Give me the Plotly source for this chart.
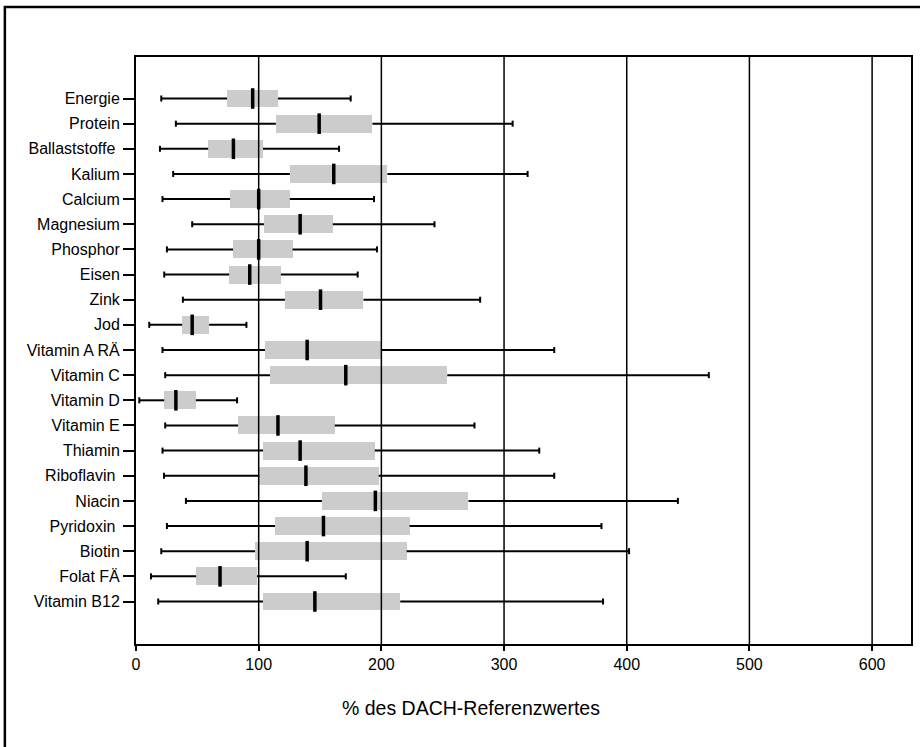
import plotly.graph_objects as go

# Nutrient categories (top to bottom)
nutrients = [
    "Energie", "Protein", "Ballaststoffe\u00a0", "Kalium", "Calcium", "Magnesium",
    "Phosphor", "Eisen", "Zink", "Jod", "Vitamin A RÄ", "Vitamin C", "Vitamin D",
    "Vitamin E", "Thiamin", "Riboflavin\u00a0", "Niacin", "Pyridoxin\u00a0", "Biotin",
    "Folat FÄ", "Vitamin B12",
]

# Distribution of intake in % of the DACH reference value
whisker_low = [20.6, 32.5, 19.5, 30.3, 21.6, 45.8, 25.2, 23.0, 38.2, 10.8, 21.6,
               23.8, 2.7, 23.8, 21.6, 22.8, 40.7, 25.2, 20.6, 12.2, 18.1]
q1 = [74.2, 114.0, 58.8, 125.4, 76.7, 104.3, 79.1, 75.9, 121.4, 37.6, 105.1,
      109.2, 23.0, 83.2, 103.5, 100.5, 151.5, 113.3, 97.0, 49.0, 103.5]
median = [95.1, 149.3, 79.4, 161.2, 100.0, 133.8, 100.0, 92.7, 150.4, 45.8, 139.5,
          171.0, 32.5, 115.7, 133.8, 138.5, 195.1, 152.8, 139.5, 68.5, 145.8]
q3 = [115.7, 192.7, 103.5, 204.9, 125.4, 160.4, 127.6, 118.1, 185.4, 59.6, 199.7,
      253.7, 48.8, 162.0, 194.6, 197.8, 271.0, 223.0, 220.6, 98.6, 215.4]
whisker_high = [175.0, 307.0, 165.5, 319.2, 194.0, 243.3, 196.4, 180.7, 280.5, 90.0, 340.9,
                466.9, 82.4, 275.9, 328.7, 340.9, 441.7, 379.4, 401.9, 171.0, 380.7]

x_ticks = [0, 100, 200, 300, 400, 500, 600]
x_title = "% des DACH-Referenzwertes"

FONT = "Arial, 'Liberation Sans', sans-serif"
idx = list(range(len(nutrients)))

# whisker segments outside the boxes
wx, wy = [], []
for i in idx:
    wx += [whisker_low[i], q1[i], None, q3[i], whisker_high[i], None]
    wy += [i, i, None, i, i, None]

fig = go.Figure()

fig.add_trace(go.Bar(
    y=idx, x=[b - a for a, b in zip(q1, q3)], base=q1, orientation="h",
    width=0.715, marker=dict(color="#cccccc", line=dict(width=0)),
    hoverinfo="skip",
))

fig.add_trace(go.Scatter(
    x=wx, y=wy, mode="lines", line=dict(color="black", width=2),
    hoverinfo="skip",
))

# whisker end caps
fig.add_trace(go.Scatter(
    x=whisker_low + whisker_high, y=idx + idx, mode="markers",
    marker=dict(symbol="line-ns", size=4.3, color="black",
                line=dict(color="black", width=2)),
    hoverinfo="skip",
))

# medians
fig.add_trace(go.Scatter(
    x=median, y=idx, mode="markers",
    marker=dict(symbol="line-ns", size=14.7, color="black",
                line=dict(color="black", width=3.5)),
    hoverinfo="skip",
))

# vertical grid lines drawn over the boxes
shapes = [
    dict(type="line", xref="x", yref="paper", x0=v, x1=v, y0=0, y1=1,
         line=dict(color="black", width=1.5), layer="above")
    for v in x_ticks[1:]
]
# outer frame around the whole chart
shapes.append(dict(type="rect", xref="paper", yref="paper",
                   x0=-0.1692, x1=1.2, y0=-0.4, y1=1.0851,
                   line=dict(color="black", width=2.5), layer="above"))

fig.update_layout(
    width=920, height=747,
    margin=dict(l=136, r=7, t=57, b=103),
    paper_bgcolor="white", plot_bgcolor="white",
    showlegend=False,
    font=dict(family=FONT, color="black", size=16),
    shapes=shapes,
    annotations=[dict(
        text=x_title, xref="paper", yref="paper", x=0.4328, y=-0.1084,
        xanchor="center", yanchor="middle", showarrow=False,
        font=dict(family=FONT, size=19.5, color="black"),
    )],
    bargap=0,
)

fig.update_xaxes(
    range=[0, 631.7], tickvals=x_ticks, ticks="outside", ticklen=5,
    tickwidth=1.5, tickcolor="black", showgrid=False, zeroline=False,
    showline=True, linewidth=2, linecolor="black", mirror=True,
    tickfont=dict(family=FONT, size=16, color="black"),
)
fig.update_yaxes(
    range=[len(nutrients) - 1 + 1.69, -1.65], tickvals=idx, ticktext=nutrients,
    ticks="outside", ticklen=11, tickwidth=1.5, tickcolor="black",
    showgrid=False, zeroline=False,
    showline=True, linewidth=2, linecolor="black", mirror=True,
    tickfont=dict(family=FONT, size=16, color="black"),
)

fig.write_html("out.html")
